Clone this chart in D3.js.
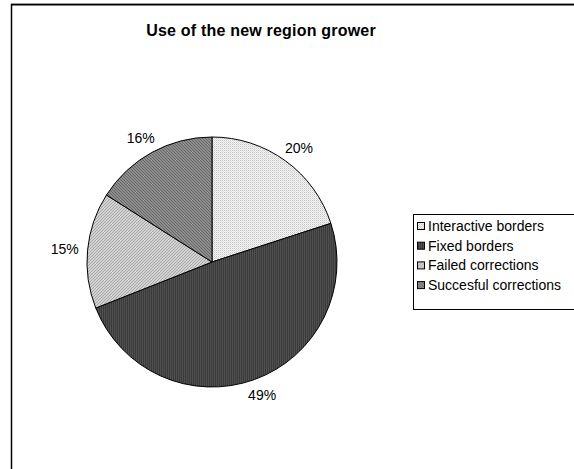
<!DOCTYPE html>
<meta charset="utf-8">
<script src="https://d3js.org/d3.v7.min.js"></script>
<style>
  body { margin: 0; background: #fff; }
  text { font-family: "Liberation Sans", Arial, sans-serif; }
</style>
<div id="chart"></div>
<script>

// data
const categories = ["Interactive borders", "Fixed borders", "Failed corrections", "Succesful corrections"];
const values = [20, 49, 15, 16];
const labels = ["20%", "49%", "15%", "16%"];

const width = 574, height = 469;
const cx = 212, cy = 262, r = 125;

const svg = d3.select("#chart")
  .append("svg")
    .attr("width", width)
    .attr("height", height);

// fill textures, one per slice
const defs = svg.append("defs");

const p0 = defs.append("pattern").attr("id", "pat0")
  .attr("patternUnits", "userSpaceOnUse").attr("width", 2).attr("height", 2);
p0.append("rect").attr("width", 2).attr("height", 2).attr("fill", "#f6f6f6");
p0.append("rect").attr("width", 1).attr("height", 1).attr("fill", "#c4c4c4");
p0.append("rect").attr("x", 1).attr("y", 1).attr("width", 1).attr("height", 1).attr("fill", "#dcdcdc");

const p1 = defs.append("pattern").attr("id", "pat1")
  .attr("patternUnits", "userSpaceOnUse").attr("width", 2).attr("height", 2);
p1.append("rect").attr("width", 2).attr("height", 2).attr("fill", "#3a3a3a");
p1.append("rect").attr("width", 1).attr("height", 2).attr("fill", "#505050");

const p2 = defs.append("pattern").attr("id", "pat2")
  .attr("patternUnits", "userSpaceOnUse").attr("width", 3).attr("height", 3);
p2.append("rect").attr("width", 3).attr("height", 3).attr("fill", "#d2d2d2");
p2.append("path").attr("d", "M0,3L3,0").attr("stroke", "#a8a8a8").attr("stroke-width", 1);

const p3 = defs.append("pattern").attr("id", "pat3")
  .attr("patternUnits", "userSpaceOnUse").attr("width", 3).attr("height", 3);
p3.append("rect").attr("width", 3).attr("height", 3).attr("fill", "#8e8e8e");
p3.append("path").attr("d", "M0,0L3,3").attr("stroke", "#666").attr("stroke-width", 1);

const fills = categories.map((d, i) => `url(#pat${i})`);

// outer frame
svg.append("line")
  .attr("x1", 11).attr("x2", width).attr("y1", 3.5).attr("y2", 3.5)
  .attr("stroke", "#999").attr("stroke-width", 1);
svg.append("rect")
  .attr("x", 11.5).attr("y", 4.75)
  .attr("width", width + 10).attr("height", height + 10)
  .attr("fill", "none").attr("stroke", "#000").attr("stroke-width", 1.5);

// title
svg.append("text")
  .attr("x", 261).attr("y", 36)
  .attr("text-anchor", "middle")
  .attr("font-size", 16).attr("font-weight", "bold")
  .attr("letter-spacing", 0.2)
  .text("Use of the new region grower");

// pie
const pie = d3.pie().sort(null).value(d => d);
const arc = d3.arc().innerRadius(0).outerRadius(r);
const arcs = pie(values);

const g = svg.append("g").attr("transform", `translate(${cx},${cy})`);

g.selectAll("path")
  .data(arcs)
  .join("path")
    .attr("d", arc)
    .attr("fill", (d, i) => fills[i])
    .attr("stroke", "#000")
    .attr("stroke-width", 1);

// labels sit just outside the rim, their box pushed away along the mid angle
const lw = 28, lh = 14, gap = 9;
g.selectAll("text")
  .data(arcs)
  .join("text")
    .attr("transform", d => {
      const a = (d.startAngle + d.endAngle) / 2;
      const x = Math.sin(a) * (r + gap) + Math.sin(a) * lw / 2;
      const y = -Math.cos(a) * (r + gap) - Math.cos(a) * lh / 2;
      return `translate(${x},${y})`;
    })
    .attr("text-anchor", "middle")
    .attr("dy", "0.36em")
    .attr("font-size", 14)
    .text((d, i) => labels[i]);

// legend
const legend = svg.append("g").attr("transform", "translate(413,214)");
legend.append("rect")
  .attr("x", 0.5).attr("y", 0.5)
  .attr("width", 200).attr("height", 95)
  .attr("fill", "#fff").attr("stroke", "#000").attr("stroke-width", 1);

const item = legend.selectAll("g.item")
  .data(categories)
  .join("g")
    .attr("class", "item")
    .attr("transform", (d, i) => `translate(0,${12 + i * 19.7})`);

item.append("rect")
  .attr("x", 4.5).attr("y", -3.5)
  .attr("width", 7).attr("height", 7)
  .attr("fill", (d, i) => fills[i])
  .attr("stroke", "#000").attr("stroke-width", 1);

item.append("text")
  .attr("x", 15).attr("dy", "0.36em")
  .attr("font-size", 14)
  .text(d => d);

</script>
